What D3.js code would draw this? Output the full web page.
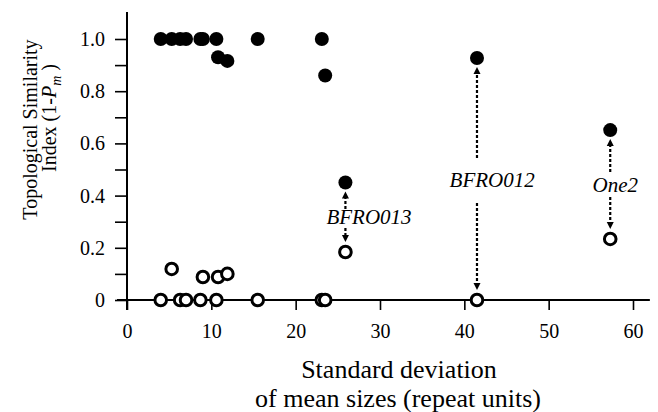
<!DOCTYPE html>
<html>
<head>
<meta charset="utf-8">
<script src="https://cdn.jsdelivr.net/npm/d3@7"></script>
<style>
  body { margin: 0; background: #fff; }
  svg { display: block; }
</style>
</head>
<body>
<svg id="chart" width="658" height="412"></svg>
<script>
// standard deviation of mean sizes, one entry per locus
var sdValues = [4.0, 5.3, 6.3, 7.0, 8.7, 9.0, 10.6, 10.8, 11.9, 15.5, 23.1, 23.5, 25.9, 41.5, 57.3];
// filled circles (one index) and open circles (other index)
var filledValues = [1.0, 1.0, 1.0, 1.0, 1.0, 1.0, 1.0, 0.93, 0.916, 1.0, 1.0, 0.86, 0.45, 0.927, 0.651];
var openValues = [0, 0.119, 0, 0, 0, 0.088, 0, 0.088, 0.100, 0, 0, 0, 0.184, 0, 0.234];

var xTicks = [0, 10, 20, 30, 40, 50, 60];
var yTicks = [0, 0.1, 0.2, 0.3, 0.4, 0.5, 0.6, 0.7, 0.8, 0.9, 1.0];

// labelled loci
var annoNames = ["BFRO013", "BFRO012", "One2"];
var annoIndex = [12, 13, 14];

var FONT = "'Liberation Serif', 'Times New Roman', serif";
var svg = d3.select("#chart");

var x = d3.scaleLinear().domain([0, 60]).range([127, 633]);
var y = d3.scaleLinear().domain([0, 1]).range([300, 39]);

// label placement (data units)
var annoLabelX = [28.7, 43.3, 57.9];
var annoLabelY = [0.291, 0.433, 0.414];
var annoTailUp = [0.349, 0.544, 0.490];
var annoTailDown = [0.276, 0.372, 0.395];

// axis lines
svg.append("line")
    .attr("x1", x(0)).attr("x2", x(0))
    .attr("y1", y(1.103)).attr("y2", y(0) + 10)
    .attr("stroke", "#000").attr("stroke-width", 2);
svg.append("line")
    .attr("x1", x(0) - 10).attr("x2", x(62))
    .attr("y1", y(0)).attr("y2", y(0))
    .attr("stroke", "#000").attr("stroke-width", 2);

var xAxis = svg.append("g")
    .attr("transform", "translate(0," + y(0) + ")")
    .call(d3.axisBottom(x).tickValues(xTicks).tickSize(10).tickPadding(14).tickFormat(d3.format("d")));
xAxis.select(".domain").remove();
xAxis.selectAll(".tick line").attr("stroke-width", 1.6);
xAxis.selectAll("text").attr("font-size", 20);

var yAxis = svg.append("g")
    .attr("transform", "translate(" + x(0) + ",0)")
    .call(d3.axisLeft(y).tickValues(yTicks).tickSize(12).tickPadding(10)
        .tickFormat(function (d, i) {
            if (i % 2 == 1) return "";
            return d == 0 ? "0" : d3.format(".1f")(d);
        }));
yAxis.select(".domain").remove();
yAxis.selectAll(".tick line").attr("stroke-width", 1.6);
yAxis.selectAll("text").attr("font-size", 20);

// axis titles
svg.append("text")
    .attr("transform", "translate(37,129.5) rotate(-90)")
    .attr("text-anchor", "middle")
    .attr("font-size", 20)
    .text("Topological Similarity");
var yt2 = svg.append("text")
    .attr("transform", "translate(56,118) rotate(-90)")
    .attr("text-anchor", "middle")
    .attr("font-size", 20);
yt2.append("tspan").text("Index (1-");
yt2.append("tspan").attr("font-style", "italic").text("P");
yt2.append("tspan").attr("font-style", "italic").attr("font-size", 14).attr("dy", 5).text("m");
yt2.append("tspan").attr("dy", -5).text(" )");

svg.append("text")
    .attr("x", 399).attr("y", 378)
    .attr("text-anchor", "middle")
    .attr("font-size", 26)
    .text("Standard deviation");
svg.append("text")
    .attr("x", 398).attr("y", 407)
    .attr("text-anchor", "middle")
    .attr("font-size", 26)
    .text("of mean sizes (repeat units)");

// annotation arrows + labels
var r = 7;
annoNames.forEach(function (name, k) {
    var i = annoIndex[k];
    var px = x(sdValues[i]);
    var upTip = y(filledValues[i]) + r + 2;
    var downTip = y(openValues[i]) - r - 3;
    var g = svg.append("g");
    [[y(annoTailUp[k]), upTip], [y(annoTailDown[k]), downTip]].forEach(function (seg) {
        var tail = seg[0], tip = seg[1];
        var dir = tip < tail ? -1 : 1;
        g.append("line")
            .attr("x1", px).attr("x2", px)
            .attr("y1", tail).attr("y2", tip - dir * 6)
            .attr("stroke", "#000").attr("stroke-width", 2.2)
            .attr("stroke-dasharray", "3,2");
        g.append("path")
            .attr("d", "M" + px + "," + tip + "L" + (px - 3.5) + "," + (tip - dir * 7) + "L" + (px + 3.5) + "," + (tip - dir * 7) + "Z")
            .attr("fill", "#000");
    });
    g.append("text")
        .attr("x", x(annoLabelX[k])).attr("y", y(annoLabelY[k]))
        .attr("text-anchor", "middle")
        .attr("font-size", 21)
        .attr("font-style", "italic")
        .text(name);
});

// points
svg.append("g").selectAll("circle")
    .data(openValues)
    .enter().append("circle")
    .attr("cx", function (d, i) { return x(sdValues[i]); })
    .attr("cy", function (d) { return y(d); })
    .attr("r", 5.8)
    .attr("fill", "#fff")
    .attr("stroke", "#000")
    .attr("stroke-width", 3);

svg.append("g").selectAll("circle")
    .data(filledValues)
    .enter().append("circle")
    .attr("cx", function (d, i) { return x(sdValues[i]); })
    .attr("cy", function (d) { return y(d); })
    .attr("r", r)
    .attr("fill", "#000");

svg.selectAll("text").style("font-family", FONT).attr("fill", "#000");
</script>
</body>
</html>
